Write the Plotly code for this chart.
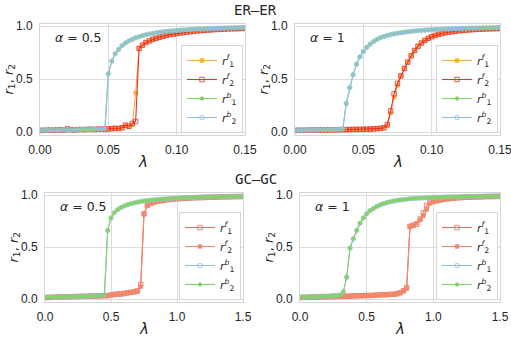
import plotly.graph_objects as go

# ---- data ----
x_er = [0.0, 0.0025, 0.005, 0.0075, 0.01, 0.0125, 0.015, 0.0175, 0.02, 0.0225,
        0.025, 0.0275, 0.03, 0.0325, 0.035, 0.0375, 0.04, 0.0425, 0.045, 0.0475,
        0.05, 0.0525, 0.055, 0.0575, 0.06, 0.0625, 0.065, 0.0675, 0.07, 0.0725,
        0.075, 0.0775, 0.08, 0.0825, 0.085, 0.0875, 0.09, 0.0925, 0.095, 0.0975,
        0.1, 0.1025, 0.105, 0.1075, 0.11, 0.1125, 0.115, 0.1175, 0.12, 0.1225,
        0.125, 0.1275, 0.13, 0.1325, 0.135, 0.1375, 0.14, 0.1425, 0.145, 0.1475, 0.15]
x_gc = [0.0, 0.025, 0.05, 0.075, 0.1, 0.125, 0.15, 0.175, 0.2, 0.225,
        0.25, 0.275, 0.3, 0.325, 0.35, 0.375, 0.4, 0.425, 0.45, 0.475,
        0.5, 0.525, 0.55, 0.575, 0.6, 0.625, 0.65, 0.675, 0.7, 0.725,
        0.75, 0.775, 0.8, 0.825, 0.85, 0.875, 0.9, 0.925, 0.95, 0.975,
        1.0, 1.025, 1.05, 1.075, 1.1, 1.125, 1.15, 1.175, 1.2, 1.225,
        1.25, 1.275, 1.3, 1.325, 1.35, 1.375, 1.4, 1.425, 1.45, 1.475, 1.5]

# ER-ER, alpha = 0.5
er05_r1f = [0.015, 0.016, 0.017, 0.018, 0.016, 0.019, 0.02, 0.018, 0.021, 0.022,
            0.02, 0.023, 0.024, 0.022, 0.025, 0.026, 0.024, 0.027, 0.028, 0.027,
            0.03, 0.032, 0.035, 0.033, 0.04, 0.06, 0.05, 0.07, 0.37, 0.79,
            0.82, 0.845, 0.86, 0.875, 0.885, 0.895, 0.905, 0.912, 0.92, 0.925,
            0.93, 0.935, 0.94, 0.944, 0.948, 0.952, 0.955, 0.958, 0.961, 0.963,
            0.965, 0.967, 0.969, 0.971, 0.972, 0.974, 0.975, 0.976, 0.977, 0.978, 0.979]
er05_r2f = [0.015, 0.016, 0.017, 0.018, 0.016, 0.019, 0.02, 0.018, 0.03, 0.022,
            0.02, 0.023, 0.024, 0.022, 0.025, 0.026, 0.024, 0.027, 0.028, 0.027,
            0.03, 0.032, 0.035, 0.033, 0.04, 0.065, 0.055, 0.08, 0.1, 0.79,
            0.82, 0.845, 0.86, 0.875, 0.885, 0.895, 0.905, 0.912, 0.92, 0.925,
            0.93, 0.935, 0.94, 0.944, 0.948, 0.952, 0.955, 0.958, 0.961, 0.963,
            0.965, 0.967, 0.969, 0.971, 0.972, 0.974, 0.975, 0.976, 0.977, 0.978, 0.979]
er05_b = [0.015, 0.016, 0.016, 0.017, 0.018, 0.018, 0.019, 0.02, 0.02, 0.021,
          0.022, 0.022, 0.023, 0.024, 0.024, 0.025, 0.026, 0.027, 0.028, 0.03,
          0.55, 0.67, 0.74, 0.78, 0.815, 0.84, 0.86, 0.875, 0.89, 0.9,
          0.91, 0.918, 0.925, 0.931, 0.937, 0.942, 0.946, 0.95, 0.953, 0.956,
          0.959, 0.962, 0.964, 0.966, 0.968, 0.97, 0.972, 0.973, 0.975, 0.976,
          0.977, 0.978, 0.979, 0.98, 0.981, 0.982, 0.983, 0.984, 0.984, 0.985, 0.986]

# ER-ER, alpha = 1
er1_r1f = [0.015, 0.016, 0.016, 0.017, 0.017, 0.018, 0.018, 0.019, 0.019, 0.02,
           0.02, 0.021, 0.021, 0.022, 0.022, 0.023, 0.023, 0.024, 0.025, 0.025,
           0.026, 0.027, 0.028, 0.03, 0.032, 0.035, 0.04, 0.06, 0.18, 0.33,
           0.44, 0.53, 0.6, 0.66, 0.72, 0.77, 0.81, 0.84, 0.865, 0.885,
           0.9, 0.912, 0.922, 0.93, 0.937, 0.943, 0.948, 0.952, 0.956, 0.959,
           0.962, 0.965, 0.967, 0.969, 0.971, 0.972, 0.974, 0.975, 0.976, 0.977, 0.978]
er1_r2f = [0.015, 0.016, 0.016, 0.017, 0.017, 0.018, 0.018, 0.019, 0.019, 0.02,
           0.02, 0.021, 0.021, 0.022, 0.022, 0.023, 0.023, 0.024, 0.025, 0.025,
           0.026, 0.027, 0.028, 0.03, 0.032, 0.035, 0.04, 0.07, 0.2, 0.36,
           0.46, 0.53, 0.6, 0.66, 0.72, 0.77, 0.81, 0.84, 0.865, 0.885,
           0.9, 0.912, 0.922, 0.93, 0.937, 0.943, 0.948, 0.952, 0.956, 0.959,
           0.962, 0.965, 0.967, 0.969, 0.971, 0.972, 0.974, 0.975, 0.976, 0.977, 0.978]
er1_b = [0.015, 0.016, 0.016, 0.017, 0.018, 0.018, 0.019, 0.02, 0.021, 0.022,
         0.022, 0.023, 0.024, 0.025, 0.03, 0.27, 0.42, 0.54, 0.64, 0.71,
         0.76, 0.8, 0.83, 0.855, 0.875, 0.89, 0.902, 0.912, 0.92, 0.927,
         0.933, 0.938, 0.943, 0.947, 0.951, 0.954, 0.957, 0.96, 0.962, 0.964,
         0.966, 0.968, 0.97, 0.971, 0.973, 0.974, 0.975, 0.976, 0.977, 0.978,
         0.979, 0.98, 0.981, 0.982, 0.982, 0.983, 0.984, 0.984, 0.985, 0.985, 0.986]

# GC-GC, alpha = 0.5
gc05_r1f = [0.015, 0.016, 0.017, 0.018, 0.019, 0.02, 0.021, 0.022, 0.023, 0.024,
            0.025, 0.026, 0.026, 0.027, 0.028, 0.029, 0.03, 0.031, 0.032, 0.033,
            0.04, 0.045, 0.05, 0.048, 0.055, 0.06, 0.065, 0.07, 0.08, 0.14,
            0.82, 0.9, 0.92, 0.93, 0.94, 0.945, 0.95, 0.955, 0.958, 0.961,
            0.964, 0.966, 0.968, 0.97, 0.972, 0.974, 0.975, 0.976, 0.977, 0.978,
            0.979, 0.98, 0.981, 0.982, 0.983, 0.983, 0.984, 0.985, 0.985, 0.986, 0.986]
gc05_r2f = [0.015, 0.016, 0.017, 0.018, 0.019, 0.02, 0.021, 0.022, 0.023, 0.024,
            0.025, 0.026, 0.026, 0.027, 0.028, 0.029, 0.03, 0.031, 0.032, 0.033,
            0.038, 0.043, 0.048, 0.05, 0.053, 0.058, 0.062, 0.068, 0.07, 0.12,
            0.82, 0.9, 0.92, 0.93, 0.94, 0.945, 0.95, 0.955, 0.958, 0.961,
            0.964, 0.966, 0.968, 0.97, 0.972, 0.974, 0.975, 0.976, 0.977, 0.978,
            0.979, 0.98, 0.981, 0.982, 0.983, 0.983, 0.984, 0.985, 0.985, 0.986, 0.986]
gc05_b = [0.015, 0.016, 0.017, 0.018, 0.019, 0.02, 0.021, 0.022, 0.023, 0.024,
          0.025, 0.026, 0.027, 0.028, 0.03, 0.031, 0.033, 0.035, 0.04, 0.66,
          0.78, 0.83, 0.86, 0.88, 0.895, 0.907, 0.917, 0.925, 0.932, 0.938,
          0.943, 0.947, 0.951, 0.954, 0.957, 0.96, 0.962, 0.964, 0.966, 0.968,
          0.97, 0.972, 0.973, 0.974, 0.976, 0.977, 0.978, 0.979, 0.98, 0.981,
          0.981, 0.982, 0.983, 0.983, 0.984, 0.985, 0.985, 0.986, 0.986, 0.987, 0.987]

# GC-GC, alpha = 1
gc1_r1f = [0.015, 0.016, 0.017, 0.018, 0.019, 0.02, 0.021, 0.022, 0.022, 0.023,
           0.024, 0.025, 0.026, 0.027, 0.028, 0.029, 0.03, 0.031, 0.032, 0.033,
           0.034, 0.035, 0.036, 0.038, 0.04, 0.041, 0.043, 0.045, 0.047, 0.05,
           0.06, 0.08, 0.11, 0.7, 0.71, 0.72, 0.77, 0.83, 0.9, 0.93,
           0.94, 0.945, 0.952, 0.958, 0.963, 0.967, 0.97, 0.973, 0.975, 0.977,
           0.979, 0.98, 0.981, 0.982, 0.983, 0.984, 0.985, 0.986, 0.986, 0.987, 0.987]
gc1_r2f = [0.015, 0.016, 0.017, 0.018, 0.019, 0.02, 0.021, 0.022, 0.022, 0.023,
           0.024, 0.025, 0.026, 0.027, 0.028, 0.029, 0.03, 0.031, 0.032, 0.033,
           0.034, 0.035, 0.036, 0.038, 0.04, 0.041, 0.043, 0.045, 0.047, 0.05,
           0.06, 0.075, 0.1, 0.7, 0.71, 0.73, 0.76, 0.8, 0.86, 0.92,
           0.935, 0.945, 0.952, 0.958, 0.963, 0.967, 0.97, 0.973, 0.975, 0.977,
           0.979, 0.98, 0.981, 0.982, 0.983, 0.984, 0.985, 0.986, 0.986, 0.987, 0.987]
gc1_b = [0.02, 0.021, 0.022, 0.023, 0.024, 0.025, 0.026, 0.027, 0.028, 0.03,
         0.035, 0.032, 0.04, 0.07, 0.21, 0.49, 0.58, 0.66, 0.73, 0.78,
         0.82, 0.85, 0.87, 0.89, 0.905, 0.917, 0.927, 0.935, 0.942, 0.948,
         0.953, 0.957, 0.961, 0.964, 0.967, 0.969, 0.971, 0.973, 0.975, 0.976,
         0.978, 0.979, 0.98, 0.981, 0.982, 0.983, 0.984, 0.984, 0.985, 0.986,
         0.986, 0.987, 0.987, 0.988, 0.988, 0.989, 0.989, 0.989, 0.99, 0.99, 0.99]

er_ticks = [0.0, 0.05, 0.10, 0.15]
gc_ticks = [0.0, 0.5, 1.0, 1.5]
y_ticks = [0.0, 0.5, 1.0]

# colours
ORANGE = '#f7ae45'
RED = '#e8312b'
GREEN = '#86d16a'
BLUE = '#93bdf0'
LRED = '#ee6a66'
SALMON = '#f0896a'

W, H = 511, 338
# plot-area boxes in pixels: (left, right, top, bottom)
boxes = {
    1: (40, 245, 24, 135),
    2: (295, 500, 24, 135),
    3: (45, 243, 193, 302),
    4: (300, 500, 193, 302),
}

def px_x(v):
    return v / W

def px_y(v):
    return 1 - v / H

leg_lab = ['<i>r</i><sup><i>f</i></sup><sub>1</sub>', '<i>r</i><sup><i>f</i></sup><sub>2</sub>',
           '<i>r</i><sup><i>b</i></sup><sub>1</sub>', '<i>r</i><sup><i>b</i></sup><sub>2</sub>']

fig = go.Figure()

def add_series(n, x, y, name, color, symbol, size, lw=1.1):
    ax = '' if n == 1 else str(n)
    fig.add_trace(go.Scatter(
        x=x, y=y, mode='lines+markers', name=name,
        xaxis='x' + ax, yaxis='y' + ax,
        legend='legend' if n == 1 else 'legend' + str(n),
        line=dict(color=color, width=lw),
        marker=dict(color=color, symbol=symbol, size=size,
                    line=dict(color=color, width=0.8)),
    ))

# top panels: r1f orange sq, r2f red open sq, r1b green dot, r2b blue open circle
for n, (r1f, r2f, b) in {1: (er05_r1f, er05_r2f, er05_b), 2: (er1_r1f, er1_r2f, er1_b)}.items():
    add_series(n, x_er, r1f, leg_lab[0], ORANGE, 'square', 3.5)
    add_series(n, x_er, r2f, leg_lab[1], RED, 'square-open', 4.5)
    add_series(n, x_er, b, leg_lab[2], GREEN, 'circle', 3.5)
    add_series(n, x_er, b, leg_lab[3], BLUE, 'circle-open', 4.5)

# bottom panels: r1f red open sq, r2f salmon sq, r1b blue open circle, r2b green dot
for n, (r1f, r2f, b) in {3: (gc05_r1f, gc05_r2f, gc05_b), 4: (gc1_r1f, gc1_r2f, gc1_b)}.items():
    add_series(n, x_gc, r1f, leg_lab[0], LRED, 'square-open', 4.5)
    add_series(n, x_gc, r2f, leg_lab[1], SALMON, 'square', 3.5)
    add_series(n, x_gc, b, leg_lab[2], BLUE, 'circle-open', 4.5)
    add_series(n, x_gc, b, leg_lab[3], GREEN, 'circle', 3.5)

layout = dict(
    width=W, height=H,
    margin=dict(l=0, r=0, t=0, b=0, autoexpand=False),
    paper_bgcolor='white', plot_bgcolor='white',
    font=dict(family='Liberation Sans, Arial, sans-serif', size=12, color='#262626'),
)

annotations = []
for n, (l, r, t, b) in boxes.items():
    ax = '' if n == 1 else str(n)
    top = n in (1, 2)
    common = dict(
        showline=True, linecolor='#d5d5d5', linewidth=1, mirror=True,
        showgrid=True, gridcolor='#dcdcdc', gridwidth=1, zeroline=False,
        ticks='outside', ticklen=4, tickcolor='rgba(0,0,0,0)', automargin=False,
        tickfont=dict(size=12, color='#262626'), ticklabeloverflow='allow',
    )
    xa = dict(common)
    xa['domain'] = [px_x(l), px_x(r)]
    xa['anchor'] = 'y' + ax
    if top:
        xa.update(range=[0, 0.15], tickvals=er_ticks, tickformat='.2f')
    else:
        xa.update(range=[0, 1.5], tickvals=gc_ticks, tickformat='.1f')
    ya = dict(common)
    ya['domain'] = [px_y(b), px_y(t)]
    ya['anchor'] = 'x' + ax
    ya.update(range=[-0.028, 1.02], tickvals=y_ticks, tickformat='.1f')
    layout['xaxis' + ax] = xa
    layout['yaxis' + ax] = ya

    # legend in lower right of each panel
    layout['legend' if n == 1 else 'legend' + str(n)] = dict(
        x=px_x(r - 2), y=px_y(b - 2), xanchor='right', yanchor='bottom',
        xref='paper', yref='paper',
        bgcolor='rgba(255,255,255,0.9)', bordercolor='#d5d5d5', borderwidth=1,
        font=dict(family='DejaVu Sans', size=11, color='#262626'),
        itemwidth=30, tracegroupgap=0,
    )

    # axis titles
    annotations.append(dict(text='<i>λ</i>', x=px_x((l + r) / 2),
                            y=px_y(b + 27), xanchor='center', yanchor='middle',
                            font=dict(family='DejaVu Sans', size=15)))
    annotations.append(dict(text='<i>r</i><sub>1</sub>, <i>r</i><sub>2</sub>',
                            x=px_x(l - 31), y=px_y((t + b) / 2),
                            xanchor='center', yanchor='middle',
                            textangle=-90, font=dict(family='DejaVu Sans', size=13)))
    alpha = '0.5' if n in (1, 3) else '1'
    annotations.append(dict(text='<i>α</i> = ' + alpha, x=px_x(l + 13), y=px_y(t + 13),
                            xanchor='left', yanchor='middle',
                            font=dict(family='DejaVu Sans', size=12.5)))

# section titles
annotations.append(dict(text='ER–ER', x=0.5, y=px_y(10), xanchor='center', yanchor='middle',
                        font=dict(family='DejaVu Sans Mono', size=14)))
annotations.append(dict(text='GC–GC', x=0.5, y=px_y(179), xanchor='center', yanchor='middle',
                        font=dict(family='DejaVu Sans Mono', size=14)))

for a in annotations:
    a.update(xref='paper', yref='paper', showarrow=False)

layout['annotations'] = annotations
fig.update_layout(**layout)

# the page body carries a default 8px margin; drop it so the figure sits at 0,0
fig.write_html("out.html", config={'displayModeBar': False},
               post_script="document.body.style.margin='0';")
